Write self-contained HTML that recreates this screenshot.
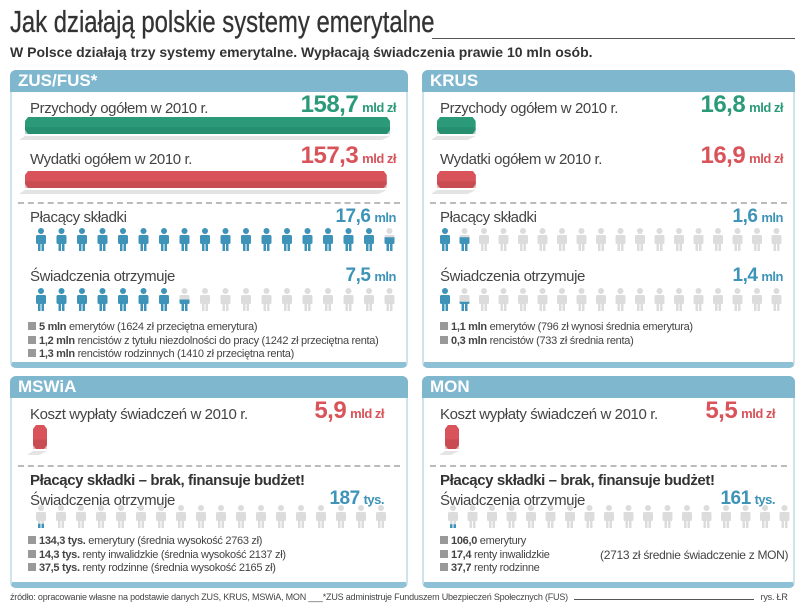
<!DOCTYPE html>
<html><head><meta charset="utf-8">
<style>
*{margin:0;padding:0;box-sizing:border-box}
body{width:805px;height:610px;background:#fff;position:relative;overflow:hidden;font-family:"Liberation Sans",sans-serif;color:#333}
.abs{position:absolute}
.title{left:10px;top:4px;font-size:31px;color:#333;transform:scaleX(0.77);transform-origin:left top;white-space:nowrap;-webkit-text-stroke:0.3px #333}
.sub{left:10px;top:44px;font-size:14px;font-weight:bold;color:#333;white-space:nowrap}
.panel{position:absolute;border:2px solid #cfe3ec;border-bottom:6px solid #8fc1d6;border-radius:6px}
.hdr{position:absolute;left:-2px;right:-2px;top:-2px;height:22px;background:#7fb7cf;border-radius:6px 6px 0 0;color:#fff;font-weight:bold;font-size:17px;padding-left:8px;line-height:22px}
.lbl{position:absolute;font-size:15px;letter-spacing:-0.4px;color:#444;white-space:nowrap}
.val{position:absolute;font-weight:bold;white-space:nowrap;text-align:right;letter-spacing:-0.5px}
.val b{font-size:24px}
.val span{font-size:13px}
.g{color:#2a9a78}.r{color:#d8545a}.b{color:#3d93b8}
.dash{position:absolute;border-top:2px dashed #bbb;height:0}
.leg{position:absolute;font-size:11px;letter-spacing:-0.3px;color:#444;white-space:nowrap;line-height:13.5px}
.leg i{display:inline-block;width:8px;height:8px;background:#999;margin-right:3px}
.bold{position:absolute;font-weight:bold;font-size:15px;letter-spacing:-0.4px;color:#333;white-space:nowrap}
</style></head><body>
<div class="abs title">Jak działają polskie systemy emerytalne</div>
<div class="abs" style="left:432px;top:38px;width:363px;border-top:1px solid #555"></div>
<div class="abs sub">W Polsce działają trzy systemy emerytalne. Wypłacają świadczenia prawie 10 mln osób.</div>

<div class="panel" style="left:10px;top:70px;width:398px;height:298px">
 <div class="hdr">ZUS/FUS*</div>
 <div class="lbl" style="left:18px;top:28px">Przychody ogółem w 2010 r.</div>
 <div class="val g" style="right:10px;top:19px"><b>158,7</b> <span>mld zł</span></div>
 <div class="lbl" style="left:18px;top:79px">Wydatki ogółem w 2010 r.</div>
 <div class="val r" style="right:10px;top:70px"><b>157,3</b> <span>mld zł</span></div>
 <div class="dash" style="left:6px;right:6px;top:130px"></div>
 <div class="lbl" style="left:18px;top:137px">Płacący składki</div>
 <div class="val b" style="right:10px;top:134px"><b style="font-size:19px">17,6</b> <span>mln</span></div>
 <div class="lbl" style="left:18px;top:196px">Świadczenia otrzymuje</div>
 <div class="val b" style="right:10px;top:193px"><b style="font-size:19px">7,5</b> <span>mln</span></div>
 <div class="leg" style="left:16px;top:249px"><div><i></i><b>5 mln</b> emerytów (1624 zł przeciętna emerytura)</div><div><i></i><b>1,2 mln</b> rencistów z tytułu niezdolności do pracy (1242 zł przeciętna renta)</div><div><i></i><b>1,3 mln</b> rencistów rodzinnych (1410 zł przeciętna renta)</div></div>
</div>

<div class="panel" style="left:422px;top:70px;width:373px;height:298px">
 <div class="hdr">KRUS</div>
 <div class="lbl" style="left:16px;top:28px">Przychody ogółem w 2010 r.</div>
 <div class="val g" style="right:10px;top:19px"><b>16,8</b> <span>mld zł</span></div>
 <div class="lbl" style="left:16px;top:79px">Wydatki ogółem w 2010 r.</div>
 <div class="val r" style="right:10px;top:70px"><b>16,9</b> <span>mld zł</span></div>
 <div class="dash" style="left:6px;right:6px;top:130px"></div>
 <div class="lbl" style="left:16px;top:137px">Płacący składki</div>
 <div class="val b" style="right:10px;top:134px"><b style="font-size:19px">1,6</b> <span>mln</span></div>
 <div class="lbl" style="left:16px;top:196px">Świadczenia otrzymuje</div>
 <div class="val b" style="right:10px;top:193px"><b style="font-size:19px">1,4</b> <span>mln</span></div>
 <div class="leg" style="left:16px;top:249px"><div><i></i><b>1,1 mln</b> emerytów (796 zł wynosi średnia emerytura)</div><div><i></i><b>0,3 mln</b> rencistów (733 zł średnia renta)</div></div>
</div>

<div class="panel" style="left:10px;top:376px;width:398px;height:212px">
 <div class="hdr">MSWiA</div>
 <div class="lbl" style="left:18px;top:28px">Koszt wypłaty świadczeń w 2010 r.</div>
 <div class="val r" style="right:22px;top:19px"><b>5,9</b> <span>mld zł</span></div>
 <div class="dash" style="left:6px;right:6px;top:87px"></div>
 <div class="bold" style="left:18px;top:94px">Płacący składki – brak, finansuje budżet!</div>
 <div class="lbl" style="left:18px;top:114px">Świadczenia otrzymuje</div>
 <div class="val b" style="right:22px;top:110px"><b style="font-size:19px">187</b> <span>tys.</span></div>
 <div class="leg" style="left:16px;top:157px"><div><i></i><b>134,3 tys.</b> emerytury (średnia wysokość 2763 zł)</div><div><i></i><b>14,3 tys.</b> renty inwalidzkie (średnia wysokość 2137 zł)</div><div><i></i><b>37,5 tys.</b> renty rodzinne (średnia wysokość 2165 zł)</div></div>
</div>

<div class="panel" style="left:422px;top:376px;width:373px;height:212px">
 <div class="hdr">MON</div>
 <div class="lbl" style="left:16px;top:28px">Koszt wypłaty świadczeń w 2010 r.</div>
 <div class="val r" style="right:18px;top:19px"><b>5,5</b> <span>mld zł</span></div>
 <div class="dash" style="left:6px;right:6px;top:87px"></div>
 <div class="bold" style="left:16px;top:94px">Płacący składki – brak, finansuje budżet!</div>
 <div class="lbl" style="left:16px;top:114px">Świadczenia otrzymuje</div>
 <div class="val b" style="right:18px;top:110px"><b style="font-size:19px">161</b> <span>tys.</span></div>
 <div class="leg" style="left:16px;top:157px"><div><i></i><b>106,0</b> emerytury</div><div><i></i><b>17,4</b> renty inwalidzkie</div><div><i></i><b>37,7</b> renty rodzinne</div></div>
 <div class="leg" style="left:176px;top:171px;font-size:12px">(2713 zł średnie świadczenie z MON)</div>
</div>

<div class="abs" style="left:10px;top:592px;font-size:9px;color:#444;white-space:nowrap;letter-spacing:-0.2px">źródło: opracowanie własne na podstawie danych ZUS, KRUS, MSWiA, MON ___*ZUS administruje Funduszem Ubezpieczeń Społecznych (FUS) <span style="display:inline-block;width:180px;border-bottom:1px solid #555;margin:0 4px"></span> rys. ŁR</div>

<svg id="marks" class="abs" style="left:0;top:0" width="805" height="610"></svg>

<script>
// money bars (mld zł)
const barLabels = ["zus-income","zus-expense","krus-income","krus-expense","mswia-cost","mon-cost"];
const barValues = [158.7, 157.3, 16.8, 16.9, 5.9, 5.5];
// people counts (mln)
const peopleLabels = ["zus-payers","zus-benef","krus-payers","krus-benef","mswia-benef","mon-benef"];
const peopleValues = [17.6, 7.5, 1.6, 1.4, 0.187, 0.161];

const NS="http://www.w3.org/2000/svg";
const svg=document.getElementById('marks');
function mk(t,a){const e=document.createElementNS(NS,t);for(const k in a)e.setAttribute(k,a[k]);svg.appendChild(e);return e;}
const xScale=v=>v*(365/158.7);
const barPos=[[25,117,'#2a9a78','#1f7a5e'],[25,171,'#d8545a','#b03e44'],[437,117,'#2a9a78','#1f7a5e'],[437,171,'#d8545a','#b03e44'],[33,425,'#d8545a','#b03e44'],[445,425,'#d8545a','#b03e44']];
barValues.forEach((v,i)=>{
  const [x,y,c,d]=barPos[i];
  const w=Math.max(xScale(v),14);
  const h=i>=4?24:17;
  mk('polygon',{points:`${x},${y+h+2} ${x+w},${y+h+2} ${x+w-8},${y+h+6} ${x-6},${y+h+6}`,fill:'#e4e4e4'});
  const b=mk('polygon',{points:`${x},${y+4} ${x+3},${y} ${x+w-3},${y} ${x+w},${y+4} ${x+w},${y+h-4} ${x+w-3},${y+h} ${x+3},${y+h} ${x},${y+h-4}`,fill:c});
  
  
  mk('rect',{x:x,y:y+h*0.6,width:w,height:h*0.4,fill:d,opacity:0.35});
});
const rowPos=[[36,228,18,20.5],[36,288,18,20.5],[440,228,18,19.5],[440,288,18,19.5],[36,505,18,20],[448,505,18,19.5]];
function person(x,y,fill){
  const g=document.createElementNS(NS,'g');
  const parts=[['circle',{cx:x+5,cy:y+3,r:3}],['rect',{x:x,y:y+7,width:10,height:9,rx:1.5}],['rect',{x:x+2,y:y+15,width:2.5,height:8}],['rect',{x:x+5.5,y:y+15,width:2.5,height:8}]];
  parts.forEach(([t,a])=>{const e=document.createElementNS(NS,t);for(const k in a)e.setAttribute(k,a[k]);e.setAttribute('fill',fill);g.appendChild(e);});
  svg.appendChild(g);return g;
}
let cid=0;
peopleValues.forEach((v,i)=>{
  const [x0,y,n,dx]=rowPos[i];
  for(let k=0;k<n;k++){
    const x=x0+k*dx;
    const f=Math.max(0,Math.min(1,v-k));
    if(f<1){person(x,y,'#dcdcdc');}
    if(f>0){
      const id='c'+(cid++);
      const cp=document.createElementNS(NS,'clipPath');cp.setAttribute('id',id);
      const r=document.createElementNS(NS,'rect');const hh=Math.max(23*f,3);
      r.setAttribute('x',x-1);r.setAttribute('y',y+23-hh);r.setAttribute('width',12);r.setAttribute('height',hh);
      cp.appendChild(r);svg.appendChild(cp);
      const p=person(x,y,'#3d93b8');p.setAttribute('clip-path','url(#'+id+')');
      
      
    }
  }
});
</script>
</body></html>
